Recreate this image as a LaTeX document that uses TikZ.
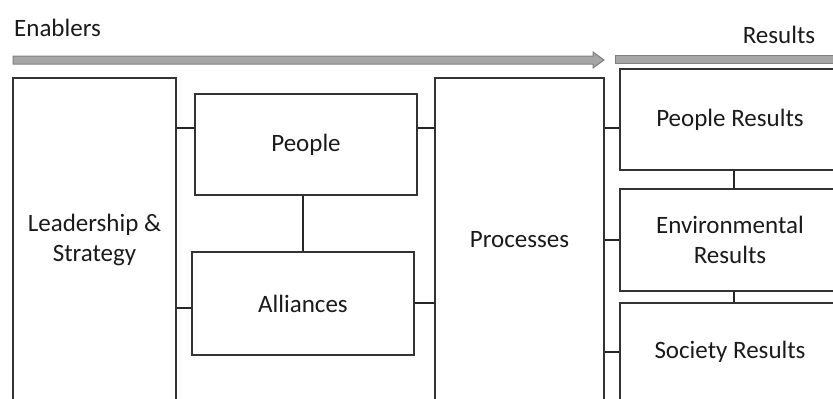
\documentclass[tikz,border=0pt]{standalone}
\usepackage{fontspec}
\setmainfont{Carlito}
\usetikzlibrary{positioning}
\usetikzlibrary{calc}

\definecolor{bargray}{RGB}{166,166,166}
\definecolor{baredge}{RGB}{127,127,127}
\definecolor{textdark}{RGB}{26,26,26}

\begin{document}
\begin{tikzpicture}[x=1pt,y=-1pt,
	box/.style={draw=black!80,line width=1.4pt,align=center,inner sep=0pt,text=textdark,font=\fontsize{25}{30.5}\selectfont},
	link/.style={draw=black!85,line width=1.6pt},
	bar/.style={fill=bargray,draw=baredge,line width=1pt},
	heading/.style={inner sep=0pt,text=textdark,font=\fontsize{25}{30}\selectfont}]
	\clip (0,0) rectangle (833,399);
	% headings and bars
	\node[heading,anchor=west] (enablers) at (14,28) {Enablers};
	\node[heading] (results) at (779,35) {Results};
	\draw[bar] (13,56) -- (593,56) -- (593,52) -- (604,60) -- (593,68) -- (593,64) -- (13,64) -- cycle;
	\draw[bar] (615,55) -- (850,55) -- (850,63) -- (615,63) -- cycle;
	% enablers
	\node[box,minimum width=163pt,minimum height=324pt] (lead) at (94.5,240) {Leadership \&\\Strategy};
	\node[box,minimum width=222pt,minimum height=101pt] (people) at (306,144.5) {People};
	\node[box,minimum width=222pt,minimum height=103pt] (alliances) at (303,303.5) {Alliances};
	\node[box,minimum width=169pt,minimum height=324pt] (processes) at (519.5,240) {Processes};
	% results
	\node[box,minimum width=220pt,minimum height=101pt] (pplres) at (730,119.5) {People Results};
	\node[box,minimum width=220pt,minimum height=102pt] (envres) at (730,240) {Environmental\\Results};
	\node[box,minimum width=220pt,minimum height=98pt] (socres) at (730,352) {Society Results};
	% connectors
	\draw[link] (lead.east |- 0,128) -- (people.west |- 0,128);
	\draw[link] (lead.east |- 0,308) -- (alliances.west |- 0,308);
	\draw[link] (people.east |- 0,128) -- (processes.west |- 0,128);
	\draw[link] (alliances.east |- 0,303) -- (processes.west |- 0,303);
	\draw[link] (people.south -| 303,0) -- (alliances.north -| 303,0);
	\draw[link] (processes.east |- 0,128) -- (pplres.west |- 0,128);
	\draw[link] (processes.east |- envres.west) -- (envres.west);
	\draw[link] (processes.east |- socres.west) -- (socres.west);
	\draw[link] (pplres.south -| 734,0) -- (envres.north -| 734,0);
	\draw[link] (envres.south -| 734,0) -- (socres.north -| 734,0);
\end{tikzpicture}
\end{document}
